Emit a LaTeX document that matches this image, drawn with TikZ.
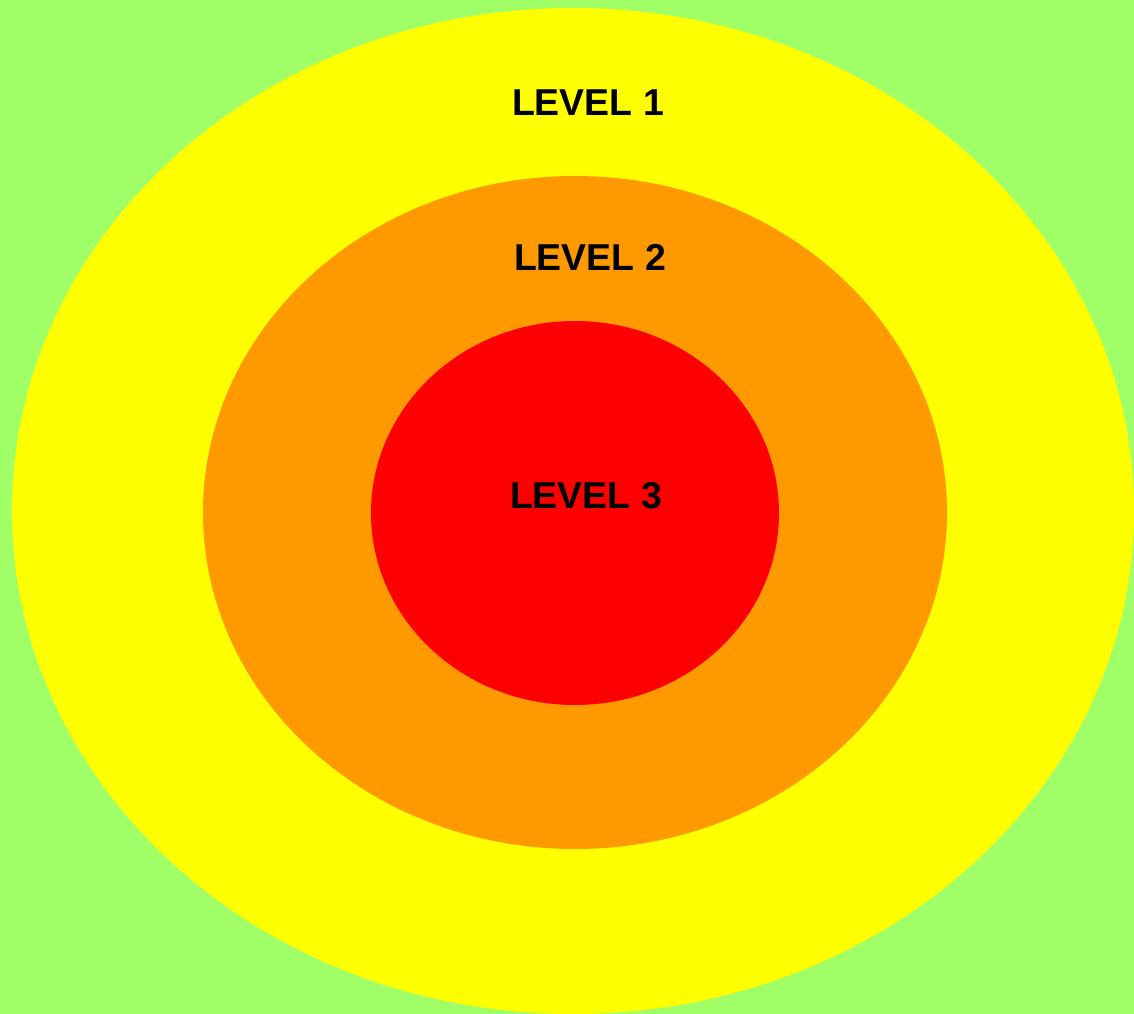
\documentclass[tikz,border=0pt]{standalone}
\usepackage{fontspec}
\setmainfont{Liberation Sans}
\usepackage{xcolor}
\usepackage{tikz}
\definecolor{lawn}{HTML}{A0FF66}
\definecolor{ringone}{HTML}{FFFF00}
\definecolor{ringtwo}{HTML}{FF9900}
\definecolor{ringthree}{HTML}{FF0000}
\tikzset{levellabel/.style={font=\fontsize{21.3}{25}\selectfont\bfseries,inner sep=0pt}}

\begin{document}
\begin{tikzpicture}[x=0.02cm,y=-0.02cm]
% ---------- background ----------
\fill[lawn] (0,0) rectangle (1134,1014);
\useasboundingbox (0,0) rectangle (1134,1014);
% ---------- rings ----------
\fill[ringone] (573,511) ellipse [x radius=561, y radius=503];
\fill[ringtwo] (575,512.5) ellipse [x radius=372, y radius=336.5];
\fill[ringthree] (575,513) ellipse [x radius=204, y radius=192];
% ---------- labels ----------
\node[levellabel] (lvlone) at (588,102.5) {LEVEL 1};
\node[levellabel] (lvltwo) at (590,257) {LEVEL 2};
\node[levellabel] (lvlthree) at (586,496) {LEVEL 3};
\end{tikzpicture}
\end{document}
